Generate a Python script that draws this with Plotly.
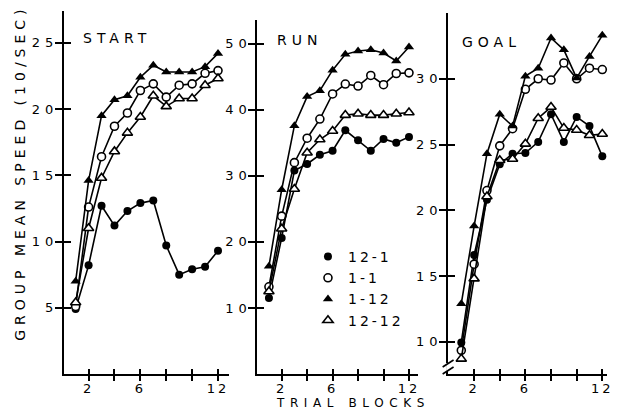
import plotly.graph_objects as go

# ---------------- data ----------------
trials = [1, 2, 3, 4, 5, 6, 7, 8, 9, 10, 11, 12]
groups = ["12-1", "1-1", "1-12", "12-12"]

start_12_1 = [4.9, 8.2, 12.7, 11.2, 12.3, 12.9, 13.1, 9.7, 7.5, 7.9, 8.1, 9.3]
start_1_1 = [5.1, 12.6, 16.4, 18.7, 19.7, 21.4, 21.9, 20.9, 21.8, 21.9, 22.7, 22.9]
start_1_12 = [7.0, 14.6, 19.5, 20.7, 21.0, 22.4, 23.3, 22.8, 22.8, 22.8, 23.2, 24.2]
start_12_12 = [5.4, 11.0, 14.8, 16.8, 18.2, 19.4, 21.0, 20.2, 20.8, 20.8, 21.8, 22.3]

run_12_1 = [11.5, 20.6, 30.8, 31.8, 33.2, 33.8, 36.9, 35.4, 33.8, 35.6, 35.0, 35.9]
run_1_1 = [13.2, 23.9, 32.0, 35.7, 38.6, 42.4, 43.9, 43.6, 45.2, 43.8, 45.5, 45.6]
run_1_12 = [16.3, 27.9, 37.6, 42.0, 42.9, 46.0, 48.4, 48.9, 49.1, 48.6, 47.4, 49.5]
run_12_12 = [12.5, 22.0, 28.0, 33.5, 35.5, 36.8, 39.2, 39.4, 39.2, 39.2, 39.4, 39.6]

goal_12_1 = [9.95, 16.6, 20.8, 23.5, 24.3, 24.35, 25.2, 27.3, 25.2, 27.1, 26.4, 24.1]
goal_1_1 = [9.35, 15.9, 21.5, 24.9, 26.2, 29.2, 30.0, 29.9, 31.2, 30.0, 30.8, 30.7]
goal_1_12 = [12.9, 18.8, 24.3, 27.3, 26.4, 30.2, 30.8, 33.1, 32.2, 30.05, 31.7, 33.3]
goal_12_12 = [8.7, 14.8, 21.05, 23.8, 23.9, 25.05, 27.0, 27.85, 26.25, 26.1, 25.7, 25.8]

panel_titles = ["START", "RUN", "GOAL"]
x_tickvals = [2, 4, 6, 8, 10, 12]
x_ticklabels = ["2", "", "6", "", "", "12"]
start_yticks = [5, 10, 15, 20, 25]
run_yticks = [10, 20, 30, 40, 50]
goal_yticks = [10, 15, 20, 25, 30]
y_title = "GROUP MEAN SPEED (10/SEC)"
x_title = "TRIAL BLOCKS"

# ---------------- layout geometry (pixels) ----------------
W, H = 617, 411
FONT = "DejaVu Sans"


def fx(p):
    return p / W


def fy(p):
    return 1 - p / H


def spaced(t, ls):
    return f'<span style="letter-spacing:{ls}px">{t}</span>' if t else ""


panels = [
    dict(series=[start_12_1, start_1_1, start_1_12, start_12_12], xdom=(64.5, 231), xr=(0.09, 12.83),
         ydom=(11, 374), yr=(0, 27.4), yt=start_yticks, title_px=(82, 38)),
    dict(series=[run_12_1, run_1_1, run_1_12, run_12_12], xdom=(260, 422), xr=(0.10, 12.7),
         ydom=(20, 374), yr=(0, 53.6), yt=run_yticks, title_px=(278, 40)),
    dict(series=[goal_12_1, goal_1_1, goal_1_12, goal_12_12], xdom=(452.5, 613), xr=(-0.03, 12.37),
         ydom=(13, 374), yr=(7.55, 35.0), yt=goal_yticks, title_px=(465, 42)),
]

styles = {
    "12-1": dict(symbol="circle", size=8, color="black", line=dict(color="black", width=0)),
    "1-1": dict(symbol="circle", size=8, color="white", line=dict(color="black", width=1.6)),
    "1-12": dict(symbol="triangle-up", size=9, color="black", line=dict(color="black", width=0)),
    "12-12": dict(symbol="triangle-up", size=9, color="white", line=dict(color="black", width=1.6)),
}

fig = go.Figure()
layout = dict(
    width=W, height=H, margin=dict(l=0, r=0, t=0, b=0),
    paper_bgcolor="white", plot_bgcolor="rgba(0,0,0,0)",
    font=dict(family=FONT, color="black", size=13),
    annotations=[], shapes=[],
)

for i, p in enumerate(panels):
    n = i + 1
    xa = "x" if n == 1 else f"x{n}"
    ya = "y" if n == 1 else f"y{n}"
    for g, vals in zip(groups, p["series"]):
        fig.add_trace(go.Scatter(
            x=trials, y=vals, mode="lines+markers", xaxis=xa, yaxis=ya,
            line=dict(color="black", width=1.6), marker=styles[g],
            showlegend=False, hoverinfo="skip", cliponaxis=False,
        ))
    xdom = [fx(p["xdom"][0]), fx(p["xdom"][1])]
    ydom = [fy(p["ydom"][1]), fy(p["ydom"][0])]
    layout[f"xaxis{n}"] = dict(
        domain=xdom, range=list(p["xr"]), anchor=ya, showline=True, linewidth=2, linecolor="black",
        ticks="outside", ticklen=5, tickwidth=1.6, tickcolor="black",
        tickvals=x_tickvals, ticktext=[spaced(t, 3) for t in x_ticklabels],
        tickfont=dict(family=FONT, size=13), showgrid=False, zeroline=False, ticklabelstandoff=-4,
        ticklabeloverflow="allow",
    )
    layout[f"yaxis{n}"] = dict(
        domain=ydom, range=list(p["yr"]), anchor=xa, showline=True, linewidth=2, linecolor="black",
        ticks="outside", ticklen=7, tickwidth=1.6, tickcolor="black",
        tickvals=p["yt"], ticktext=[spaced(str(v), 5) for v in p["yt"]],
        tickfont=dict(family=FONT, size=13), showgrid=False, zeroline=False, ticklabelstandoff=-6,
        ticklabeloverflow="allow",
    )
    # overlay axes that draw the inner half of the crossing tick marks
    m = n + 3
    layout[f"xaxis{m}"] = dict(
        overlaying=xa, anchor=ya, range=list(p["xr"]), ticks="inside", ticklen=5, tickwidth=1.6,
        tickcolor="black", tickvals=x_tickvals, showticklabels=False, showline=False,
        showgrid=False, zeroline=False,
    )
    layout[f"yaxis{m}"] = dict(
        overlaying=ya, anchor=xa, range=list(p["yr"]), ticks="inside", ticklen=7, tickwidth=1.6,
        tickcolor="black", tickvals=p["yt"], showticklabels=False, showline=False,
        showgrid=False, zeroline=False,
    )
    fig.add_trace(go.Scatter(x=[None], y=[None], xaxis=f"x{m}", yaxis=f"y{m}",
                             showlegend=False, hoverinfo="skip"))
    tx, ty = p["title_px"]
    layout["annotations"].append(dict(
        text=spaced(panel_titles[i], 5), x=fx(tx), y=fy(ty), xref="paper", yref="paper",
        xanchor="left", yanchor="middle", showarrow=False, font=dict(family=FONT, size=14),
    ))

# legend entries (markers only)
for g in groups:
    fig.add_trace(go.Scatter(x=[None], y=[None], mode="markers", marker=styles[g],
                             name=spaced(g, 3), showlegend=True))

layout["legend"] = dict(
    x=fx(311), y=fy(241), xanchor="left", yanchor="top", bgcolor="rgba(0,0,0,0)",
    font=dict(family=FONT, size=14), borderwidth=0, tracegroupgap=0,
)

layout["annotations"].append(dict(
    text=spaced(y_title, 5.0), textangle=-90, x=fx(20), y=fy(173), xref="paper", yref="paper",
    xanchor="center", yanchor="middle", showarrow=False, font=dict(family=FONT, size=14),
))
layout["annotations"].append(dict(
    text=spaced(x_title, 5.6), x=fx(277), y=fy(403), xref="paper", yref="paper",
    xanchor="left", yanchor="middle", showarrow=False, font=dict(family=FONT, size=12),
))

# axis break marks on the GOAL y axis
layout["shapes"] += [
    dict(type="line", xref="paper", yref="paper", x0=fx(452.5), x1=fx(452.5), y0=fy(363), y1=fy(371),
         line=dict(color="white", width=4)),
    dict(type="line", xref="paper", yref="paper", x0=fx(447), y0=fy(367), x1=fx(458), y1=fy(360),
         line=dict(color="black", width=1.6)),
    dict(type="line", xref="paper", yref="paper", x0=fx(447), y0=fy(374), x1=fx(458), y1=fy(367),
         line=dict(color="black", width=1.6)),
]

fig.update_layout(**layout)
fig.write_html(
    "out.html",
    config={"displayModeBar": False},
    post_script="document.body.style.margin='0';document.body.style.padding='0';"
                "document.body.style.overflow='hidden';",
)
